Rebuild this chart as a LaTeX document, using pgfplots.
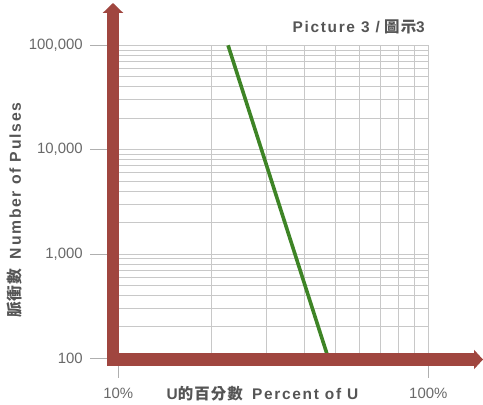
\documentclass[border=0pt]{standalone}
\usepackage{pgfplots}
\pgfplotsset{compat=1.18}
\usepackage{fontspec}
\usetikzlibrary{arrows.meta}
\setmainfont{Liberation Sans}
\newfontfamily\cjk{Noto Sans CJK TC}
\newfontfamily\spaced[LetterSpace=11]{Liberation Sans}
\newfontfamily\cjkspaced[LetterSpace=7]{Noto Sans CJK TC}
\definecolor{barred}{RGB}{160,70,63}
\definecolor{linegreen}{RGB}{62,132,38}
\definecolor{gridgray}{RGB}{200,200,200}
\definecolor{tickgray}{RGB}{175,175,175}
\definecolor{ticktext}{RGB}{105,105,105}
\definecolor{labeltext}{RGB}{85,85,85}
\begin{document}
\begin{tikzpicture}
\begin{axis}[
  at={(0,0)}, anchor=south west,
  scale only axis,
  width=310bp, height=313bp,
  xmode=log, ymode=log,
  xmin=10, xmax=100, ymin=100, ymax=100000,
  xtick={10,100}, xticklabels={10\%,100\%},
  ytick={100,1000,10000,100000},
  yticklabels={100,{1,000},{10,000},{100,000}},
  minor xtick={20,30,40,50,60,70,80,90},
  minor ytick={200,300,400,500,600,700,800,900,2000,3000,4000,5000,6000,7000,8000,9000,20000,30000,40000,50000,60000,70000,80000,90000},
  grid=both,
  major grid style={gridgray, line width=0.9bp},
  minor grid style={gridgray, line width=0.9bp},
  axis line style={draw=none},
  tick style={draw=none},
  /pgf/number format/assume math mode=true,
  tick label style={font=\fontsize{15}{17}\selectfont, text=ticktext},
  yticklabel style={anchor=east, xshift=-32bp},
  xticklabel style={anchor=center, yshift=-35bp},
  clip=false,
]
\addplot[linegreen, line width=3.6bp, line cap=butt] coordinates {(22.6,100000) (47.6,100)};
% tick marks
\draw[tickgray, line width=0.9bp] (axis cs:10,100000) -- ([xshift=-28bp]axis cs:10,100000);
\draw[tickgray, line width=0.9bp] (axis cs:10,10000) -- ([xshift=-28bp]axis cs:10,10000);
\draw[tickgray, line width=0.9bp] (axis cs:10,1000) -- ([xshift=-28bp]axis cs:10,1000);
\draw[tickgray, line width=0.9bp] (axis cs:10,100) -- ([xshift=-28bp]axis cs:10,100);
\draw[tickgray, line width=0.9bp] (axis cs:10,100) -- ([yshift=-20bp]axis cs:10,100);
\draw[tickgray, line width=0.9bp] (axis cs:100,100) -- ([yshift=-20bp]axis cs:100,100);
\end{axis}
% thick axis arrows
\draw[barred, line width=12bp, line join=miter,
  {Triangle[length=10bp,width=20bp]}-{Triangle[length=9bp,width=19bp]}]
  (-5.3bp,355.3bp) -- (-5.3bp,-1.2bp) -- (364.7bp,-1.2bp);
% labels
\node[anchor=east, text=labeltext, font=\fontsize{15.5}{17}\selectfont\bfseries] at (310bp,331.5bp)
  {{\spaced Picture 3 /} {\cjkspaced 圖示}{\spaced 3}};
\node[anchor=center, text=labeltext, font=\fontsize{15.5}{17}\selectfont\bfseries] at (144.2bp,-35.7bp)
  {{\spaced U}{\cjkspaced 的百分數}\hspace{0.6em}{\spaced Percent of U}};
\node[anchor=center, rotate=90, text=labeltext, font=\fontsize{15.8}{17}\selectfont\bfseries] at (-103.3bp,148bp)
  {{\cjkspaced 脈衝數}\hspace{0.6em}{\spaced Number of Pulses}};
\pgfresetboundingbox
\path (-118.3bp,-46.7bp) rectangle (364.7bp,358.3bp);
\end{tikzpicture}
\end{document}
